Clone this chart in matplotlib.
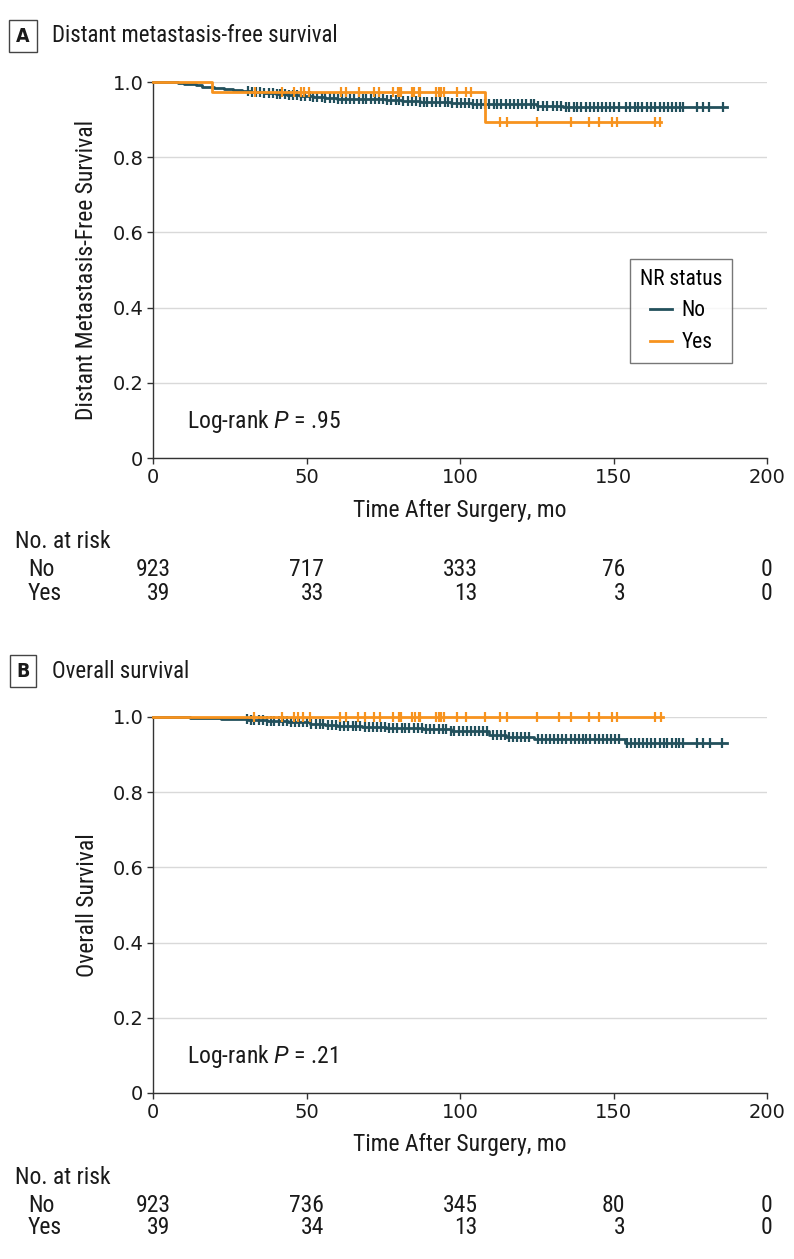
# Kaplan-Meier style curves for NR status, two panels with number-at-risk tables
import matplotlib
matplotlib.use("Agg")
import matplotlib.pyplot as plt
import numpy as np
from matplotlib.lines import Line2D
from matplotlib import transforms

plt.rcParams['font.family'] = ['DejaVu Sans Condensed', 'Roboto Condensed', 'Liberation Sans Narrow',
                               'Roboto', 'DejaVu Sans']
plt.rcParams['font.stretch'] = 'condensed'
plt.rcParams['mathtext.fontset'] = 'custom'
plt.rcParams['mathtext.it'] = 'Roboto:italic'
plt.rcParams['mathtext.rm'] = 'Roboto'

# ---- data ----
groups = ['No', 'Yes']
risk_times = [0, 50, 100, 150, 200]

# panel A: distant metastasis-free survival
a_no_t = [0, 8, 10, 12, 14, 16, 18, 20, 23, 26, 29, 32, 36, 40, 43.5, 48, 52, 56, 60, 76, 81, 87, 97, 104, 125, 133.7, 187]
a_no_s = [1.0, 0.998, 0.996, 0.994, 0.991, 0.988, 0.986, 0.983, 0.981, 0.979, 0.976, 0.973, 0.970, 0.967, 0.965, 0.963,
          0.960, 0.958, 0.955, 0.951, 0.949, 0.946, 0.943, 0.941, 0.937, 0.933, 0.933]
a_no_cens = [31, 32.4, 33.5, 35, 36.2, 37.8, 39, 40.3, 41.5, 43, 44.2, 45.6, 47, 48.1, 49.5, 51, 52.2, 53.4, 55, 56.1,
             57.5, 59, 60.3, 61.6, 63, 64.2, 65.5, 67, 68.4, 69.5, 71, 72.3, 73.6, 75, 76.2, 77.5, 79, 80.1, 81.4, 83,
             84.3, 85.6, 87, 88.2, 89.4, 91, 92.3, 93.5, 95, 96.1, 97.4, 99, 100.2, 101.5, 103, 104.3, 105.6, 107,
             108.2, 109.5, 111, 112.2, 113.4, 115, 116.3, 117.5, 119, 120.2, 121.5, 123, 124.2, 125.5, 127, 128.3,
             130.4, 131.6, 133, 134.5, 135.6, 137, 138.2, 139.5, 141, 142.3, 143.6, 145, 146.2, 147.4, 149, 150.3,
             151.8, 154.2, 155.5, 157, 158.1, 159.4, 161, 162.2, 163.5, 165, 166.3, 167.6, 169, 170.2, 171.5, 172.5,
             177.1, 179.3, 181.2, 185.6]
a_yes_t = [0, 19.1, 108.1, 165.5]
a_yes_s = [1.0, 0.974, 0.893, 0.893]
a_yes_cens = [33.2, 41.9, 45.9, 48.1, 49.2, 50.9, 61.2, 62.9, 67.1, 72.1, 73.7, 78.1, 79.9, 80.2, 80.7, 84.3, 85.1,
              86.5, 86.9, 92.2, 93.0, 93.4, 93.8, 94.8, 98.9, 101.9, 103.5, 113, 115.2, 125.2, 136.2, 142.1, 145.3,
              149.5, 151, 163.5, 165]
a_risk_no = [923, 717, 333, 76, 0]
a_risk_yes = [39, 33, 13, 3, 0]

# panel B: overall survival
b_no_t = [0, 12, 17, 22, 27, 31, 37, 44, 51, 56, 60, 68, 76, 88, 97, 109.5, 115, 124, 153.7, 187]
b_no_s = [1.0, 0.998, 0.997, 0.996, 0.994, 0.992, 0.989, 0.987, 0.982, 0.979, 0.975, 0.973, 0.970, 0.967, 0.964,
          0.953, 0.948, 0.942, 0.930, 0.930]
b_no_cens = [30.5, 31.8, 33, 34.4, 35.7, 37, 38.3, 39.5, 41, 42.2, 43.6, 45, 46.3, 47.5, 49, 50.2, 51.4, 53, 54.3,
             55.5, 57, 58.2, 59.6, 61, 62.3, 63.5, 65, 66.2, 67.4, 69, 70.3, 71.6, 73, 74.2, 75.5, 77, 78.3, 79.6, 81,
             82.2, 83.5, 85, 86.3, 87.6, 89, 90.2, 91.4, 93, 94.3, 95.5, 97, 98.2, 99.6, 101, 102.3, 103.5, 105,
             106.2, 107.5, 108.8, 110.6, 112, 113.3, 114.6, 116, 117.2, 118.5, 120, 121.3, 122.6, 125.4, 126.6, 128,
             129.3, 130.5, 132, 133.2, 134.5, 136, 137.3, 138.6, 140, 141.2, 142.5, 144, 145.3, 146.6, 148, 149.2,
             150.5, 151.8, 154.4, 155.6, 157, 158.3, 159.5, 161, 162.2, 163.5, 165, 166.3, 167.5, 169, 170.2, 171.4,
             172.5, 177.1, 179.3, 181.4, 185.5]
b_yes_t = [0, 166]
b_yes_s = [1.0, 1.0]
b_yes_cens = [32.9, 41.9, 45.9, 47.3, 48.7, 51, 61, 62.9, 66.9, 69.1, 72, 74, 78.2, 80, 80.4, 80.8, 84.4, 85.5,
              86.5, 87.1, 92.3, 93.1, 93.4, 93.8, 94.7, 99, 101.9, 108.1, 113, 115.2, 125.2, 132.2, 136.2, 142.1,
              145.3, 149.6, 151.1, 163.5, 165.5]
b_risk_no = [923, 736, 345, 80, 0]
b_risk_yes = [39, 34, 13, 3, 0]

c_no = '#22505c'
c_yes = '#f7931e'
txt = '#1a1a1a'
fs = 17

W, H = 794, 1259
fig = plt.figure(figsize=(W / 100, H / 100), dpi=100)


def fy(py):
    # pixel row -> figure fraction
    return 1 - py / H


def step_at(t, s, x):
    idx = np.searchsorted(t, x, side='right') - 1
    return np.asarray(s)[idx]


def panel(top, letter, title, ylabel, pval, curves, risk_no, risk_yes):
    ax = fig.add_axes([153 / W, fy(top + 376), 614 / W, 376 / H])
    for t, s, cens, col in curves:
        ax.plot(t, s, drawstyle='steps-post', color=col, lw=2.0, clip_on=False, zorder=3)
        ax.plot(cens, step_at(t, s, cens), ls='none', marker='|', ms=7, mew=1.6, color=col,
                clip_on=False, zorder=3)
    ax.set_xlim(0, 200)
    ax.set_ylim(0, 1.0)
    ax.set_xticks(risk_times)
    ax.set_yticks([0, 0.2, 0.4, 0.6, 0.8, 1.0], labels=['0', '0.2', '0.4', '0.6', '0.8', '1.0'])
    for lab in ax.get_xticklabels() + ax.get_yticklabels():
        lab.set_family('DejaVu Sans')
        lab.set_stretch('normal')
    ax.tick_params(labelsize=14, length=4, width=1, color='#333333', labelcolor=txt, pad=3)
    ax.grid(axis='y', color='#d9d9d9', lw=1)
    ax.set_axisbelow(True)
    for sp in ['top', 'right']:
        ax.spines[sp].set_visible(False)
    for sp in ['left', 'bottom']:
        ax.spines[sp].set_color('#333333')
        ax.spines[sp].set_linewidth(1)
    ax.text(11, 0.096, 'Log-rank $\\mathit{P}$ = ' + pval, fontsize=fs, color=txt, va='center')

    fig.text(23 / W, fy(top - 46), letter, fontsize=14, fontweight='bold', color=txt,
             ha='center', va='center', family='DejaVu Sans',
             bbox=dict(boxstyle='square,pad=0.35', fc='white', ec='#444444', lw=1))
    fig.text(52 / W, fy(top - 46), title, fontsize=16.5, color=txt, ha='left', va='center')
    fig.text(87 / W, fy(top + 188), ylabel, fontsize=fs, color=txt, rotation=90, ha='center', va='center')
    fig.text(460 / W, fy(top + 428), 'Time After Surgery, mo', fontsize=fs, color=txt, ha='center', va='center')

    # number at risk table
    tr = transforms.blended_transform_factory(ax.transData, fig.transFigure)
    fig.text(15 / W, fy(top + 460), 'No. at risk', fontsize=fs, color=txt, ha='left', va='center')
    fig.text(28 / W, fy(top + 488), groups[0], fontsize=fs, color=txt, ha='left', va='center')
    fig.text(28 / W, fy(top + 511), groups[1], fontsize=fs, color=txt, ha='left', va='center')
    tops = []
    for x, n in zip(risk_times, risk_no):
        tops.append(fig.text(x, fy(top + 488), str(n), transform=tr, fontsize=fs, color=txt,
                             ha='center', va='center'))
    fig.canvas.draw()
    inv = fig.transFigure.inverted()
    for tt, n in zip(tops, risk_yes):
        bb = tt.get_window_extent()
        xr = inv.transform((bb.x1, bb.y0))[0]
        fig.text(xr, fy(top + 511), str(n), fontsize=fs, color=txt, ha='right', va='center')
    return ax


ax_a = panel(82, 'A', 'Distant metastasis-free survival', 'Distant Metastasis-Free Survival', '.95',
             [(a_no_t, a_no_s, a_no_cens, c_no), (a_yes_t, a_yes_s, a_yes_cens, c_yes)],
             a_risk_no, a_risk_yes)
handles = [Line2D([], [], color=c_no, lw=2), Line2D([], [], color=c_yes, lw=2)]
leg = ax_a.legend(handles, groups, title='NR status', loc='lower right', bbox_to_anchor=(0.943, 0.253),
                  borderaxespad=0, fontsize=15.5, title_fontsize=15.5, frameon=True, fancybox=False,
                  handlelength=1.0, handletextpad=0.45, borderpad=0.45, labelspacing=0.5)
leg.get_frame().set_edgecolor('#555555')
leg.get_frame().set_linewidth(1)

panel(717, 'B', 'Overall survival', 'Overall Survival', '.21',
      [(b_no_t, b_no_s, b_no_cens, c_no), (b_yes_t, b_yes_s, b_yes_cens, c_yes)],
      b_risk_no, b_risk_yes)

fig.savefig('out.png', dpi=100)
